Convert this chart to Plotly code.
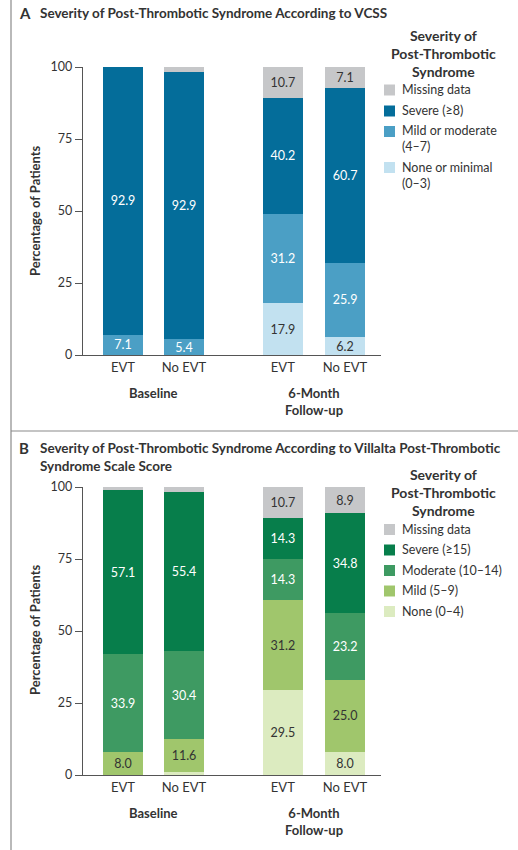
import plotly.graph_objects as go

# ---------------- data ----------------
arms = ["EVT", "No EVT", "EVT", "No EVT"]
groups = ["Baseline", "6-Month<br>Follow-up"]
y_ticks = [0, 25, 50, 75, 100]

# Panel A: VCSS (percent of patients, bottom to top)
vcss_categories = ["None or minimal (0–3)", "Mild or moderate (4–7)", "Severe (≥8)", "Missing data"]
vcss_legend_labels = ["None or minimal<br>(0–3)", "Mild or moderate<br>(4–7)", "Severe (≥8)", "Missing data"]
vcss_none = [0.0, 0.0, 17.9, 6.2]
vcss_mild_moderate = [7.1, 5.4, 31.2, 25.9]
vcss_severe = [92.9, 92.9, 40.2, 60.7]
vcss_missing = [0.0, 1.8, 10.7, 7.1]

# Panel B: Villalta score (percent of patients, bottom to top)
villalta_categories = ["None (0–4)", "Mild (5–9)", "Moderate (10–14)", "Severe (≥15)", "Missing data"]
villalta_none = [0.0, 0.9, 29.5, 8.0]
villalta_mild = [8.0, 11.6, 31.2, 25.0]
villalta_moderate = [33.9, 30.4, 14.3, 23.2]
villalta_severe = [57.1, 55.4, 14.3, 34.8]
villalta_missing = [0.9, 1.8, 10.7, 8.9]

# ---------------- styling ----------------
W, H = 518, 850
FONT = "Lato"
DARK = "#333333"
AXIS = "#555555"
bar_pos = [0, 1, 2.62, 3.64]
bar_w = 0.656
group_pos = [0.5, 3.13]

vcss_colors = ["#c2e1f0", "#4b9fc5", "#046d9a", "#c6c7c9"]
vcss_text = [DARK, "white", "white", DARK]
vill_colors = ["#dcebc0", "#a0c66c", "#3e9a62", "#077e4b", "#c6c7c9"]
vill_text = [DARK, DARK, "white", "white", DARK]


def px_x(px):
    return px / W


def px_y(py):
    return 1 - py / H


fig = go.Figure()


def add_panel(series, names, colors, tcolors, xa, ya):
    for vals, name, col, tc in zip(series, names, colors, tcolors):
        fig.add_trace(go.Bar(
            x=bar_pos, y=vals, name=name, width=bar_w,
            marker=dict(color=col, line=dict(width=0)),
            text=[f"{v:.1f}" if v >= 3 else "" for v in vals],
            textposition="inside", insidetextanchor="middle",
            constraintext="none",
            textfont=dict(family=FONT, size=12.5, color=tc),
            xaxis=xa, yaxis=ya, showlegend=False,
            hovertemplate=name + ": %{y:.1f}%<extra></extra>",
        ))


add_panel([vcss_none, vcss_mild_moderate, vcss_severe, vcss_missing],
          vcss_categories, vcss_colors, vcss_text, "x", "y")
add_panel([villalta_none, villalta_mild, villalta_moderate, villalta_severe, villalta_missing],
          villalta_categories, vill_colors, vill_text, "x2", "y2")

xdom = [px_x(83), px_x(381)]
xr = [-40 / 61, 258 / 61]
xa_common = dict(range=xr, domain=xdom, tickvals=bar_pos, ticktext=arms, showgrid=False,
                 zeroline=False, showline=True, linecolor=AXIS, linewidth=1.3, ticks="",
                 tickfont=dict(family=FONT, size=13, color=DARK), fixedrange=True, automargin=False)
ya_common = dict(range=[0, 100], tickvals=y_ticks, showgrid=False, zeroline=False,
                 showline=True, linecolor=AXIS, linewidth=1.3, ticks="outside", ticklen=7,
                 tickcolor=AXIS, tickwidth=1.2,
                 tickfont=dict(family=FONT, size=12.5, color=DARK), fixedrange=True, automargin=False)

fig.update_layout(
    width=W, height=H, margin=dict(l=0, r=0, t=0, b=0, autoexpand=False),
    paper_bgcolor="white", plot_bgcolor="white", barmode="stack",
    font=dict(family=FONT, color=DARK), showlegend=False,
    xaxis=dict(**xa_common, anchor="y"),
    yaxis=dict(**ya_common, anchor="x", domain=[px_y(355), px_y(67)]),
    xaxis2=dict(**xa_common, anchor="y2"),
    yaxis2=dict(**ya_common, anchor="x2", domain=[px_y(775), px_y(487)]),
)

ann = []
shapes = []

# frame lines
shapes.append(dict(type="line", xref="paper", yref="paper", x0=px_x(11), x1=px_x(11), y0=0, y1=1,
                   line=dict(color="#8a8a8a", width=1.2)))
shapes.append(dict(type="line", xref="paper", yref="paper", x0=px_x(11), x1=1, y0=px_y(431), y1=px_y(431),
                   line=dict(color="#8a8a8a", width=1.2)))


def text(x, y, s, size=13, bold=False, xanchor="left", yanchor="middle", align="left", angle=0, color=DARK):
    ann.append(dict(xref="paper", yref="paper", x=px_x(x), y=px_y(y), text=f"<b>{s}</b>" if bold else s,
                    showarrow=False, xanchor=xanchor, yanchor=yanchor, align=align, textangle=angle,
                    font=dict(family=FONT, size=size, color=color), borderpad=0))


# panel titles
text(18, 13, "A", size=15, bold=True)
text(39, 13, "Severity of Post-Thrombotic Syndrome According to VCSS", size=13.5, bold=True)
text(18, 448, "B", size=15, bold=True)
text(39, 439, "Severity of Post-Thrombotic Syndrome According to Villalta Post-Thrombotic<br>Syndrome Scale Score",
     size=13.5, bold=True, yanchor="top")

# y-axis titles
text(35, 211, "Percentage of Patients", size=13, bold=True, xanchor="center", angle=-90)
text(35, 630, "Percentage of Patients", size=13, bold=True, xanchor="center", angle=-90)

# group labels
for xa_ref, ya_px in (("x", 383), ("x2", 803)):
    for gx, g in zip(group_pos, groups):
        ann.append(dict(xref=xa_ref, yref="paper", x=gx, y=px_y(ya_px), text=f"<b>{g}</b>",
                        showarrow=False, xanchor="center", yanchor="top", align="center",
                        font=dict(family=FONT, size=13, color=DARK)))

# legends (drawn manually)
LEG_TITLE = "<b>Severity of<br>Post-Thrombotic<br>Syndrome</b>"


def legend(title_top, labels, colors, centers):
    text(443.5, title_top, LEG_TITLE, size=14, xanchor="center", yanchor="top", align="center")
    for lab, col, cy in zip(labels, colors, centers):
        shapes.append(dict(type="rect", xref="paper", yref="paper", x0=px_x(384), x1=px_x(395),
                           y0=px_y(cy + 5.5), y1=px_y(cy - 5.5), fillcolor=col, line=dict(width=0)))
        text(401, cy - 9, lab, size=12.5, yanchor="top")


legend(26, vcss_legend_labels[::-1], vcss_colors[::-1], [90, 111, 131.5, 167.5])
legend(465, villalta_categories[::-1], vill_colors[::-1], [529.5, 550, 570.5, 591, 611.5])

fig.update_layout(annotations=ann, shapes=shapes)
fig.write_html("out.html", config={"displayModeBar": False},
               post_script="document.body.style.margin='0';document.body.style.overflow='hidden';")
